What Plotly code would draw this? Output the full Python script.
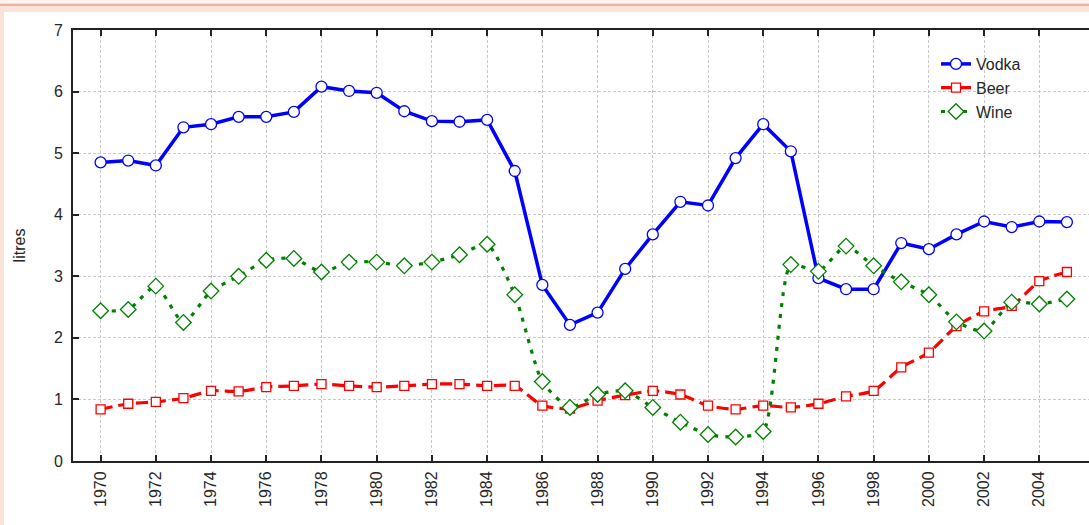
import plotly.graph_objects as go

years = list(range(1970, 2006))

vodka = [4.85, 4.88, 4.80, 5.42, 5.47, 5.59, 5.59, 5.67, 6.08, 6.01, 5.98, 5.68,
         5.52, 5.51, 5.54, 4.71, 2.86, 2.21, 2.41, 3.12, 3.68, 4.21, 4.15, 4.92,
         5.47, 5.03, 2.97, 2.79, 2.79, 3.54, 3.44, 3.68, 3.89, 3.80, 3.89, 3.88]

beer = [0.84, 0.93, 0.96, 1.02, 1.14, 1.13, 1.20, 1.22, 1.25, 1.22, 1.20, 1.22,
        1.25, 1.25, 1.22, 1.22, 0.90, 0.85, 0.98, 1.07, 1.14, 1.08, 0.90, 0.84,
        0.90, 0.87, 0.93, 1.05, 1.14, 1.52, 1.76, 2.19, 2.43, 2.52, 2.92, 3.07]

wine = [2.44, 2.46, 2.84, 2.25, 2.76, 3.00, 3.26, 3.29, 3.07, 3.23, 3.23, 3.17,
        3.23, 3.35, 3.52, 2.70, 1.29, 0.87, 1.08, 1.14, 0.87, 0.63, 0.43, 0.39,
        0.48, 3.19, 3.08, 3.49, 3.17, 2.91, 2.70, 2.26, 2.11, 2.58, 2.55, 2.63]

x_ticks = list(range(1970, 2006, 2))
y_ticks = list(range(0, 8))

W, H = 1089, 525
ML, MR, MT, MB = 73, 0, 30, 64
PW, PH = W - ML - MR, H - MT - MB

def px_x(x):
    return (x - ML) / PW

def px_y(y):
    return (H - MB - y) / PH

fig = go.Figure()

fig.add_trace(go.Scatter(
    x=years, y=vodka, name="Vodka", mode="lines+markers",
    line=dict(color="#0000ff", width=3.5),
    marker=dict(symbol="circle", size=11, color="white",
                line=dict(color="#0000ff", width=1.3)),
))
fig.add_trace(go.Scatter(
    x=years, y=beer, name="Beer", mode="lines+markers",
    line=dict(color="#ff0000", width=3.2, dash="12px,6px", shape="spline", smoothing=0.6),
    marker=dict(symbol="square", size=9, color="white",
                line=dict(color="#ff0000", width=1.3)),
))
fig.add_trace(go.Scatter(
    x=years, y=wine, name="Wine", mode="lines+markers",
    line=dict(color="#008000", width=3.2, dash="4px,7px", shape="spline", smoothing=0.6),
    marker=dict(symbol="diamond", size=12, color="white",
                line=dict(color="#008000", width=1.3)),
))

# page frame (pink band at top and left strip)
fig.add_shape(type="rect", xref="paper", yref="paper",
              x0=px_x(0), x1=px_x(W), y0=px_y(12), y1=px_y(0),
              fillcolor="#fae3d9", line=dict(width=0), layer="below")
fig.add_shape(type="rect", xref="paper", yref="paper",
              x0=px_x(0), x1=px_x(W), y0=px_y(6), y1=px_y(3.5),
              fillcolor="#eeb09f", line=dict(width=0), layer="below")
fig.add_shape(type="rect", xref="paper", yref="paper",
              x0=px_x(0), x1=px_x(W), y0=px_y(3.5), y1=px_y(0),
              fillcolor="#fdf4f0", line=dict(width=0), layer="below")
fig.add_shape(type="rect", xref="paper", yref="paper",
              x0=px_x(0), x1=px_x(4), y0=px_y(H), y1=px_y(6),
              fillcolor="#fae3d9", line=dict(width=0), layer="below")

axis_font = dict(family="Liberation Sans, Arial, sans-serif", size=16, color="#262626")

fig.update_layout(
    width=W, height=H,
    margin=dict(l=ML, r=MR, t=MT, b=MB, autoexpand=False),
    paper_bgcolor="white", plot_bgcolor="white",
    font=axis_font,
    showlegend=True,
    legend=dict(x=px_x(936), y=px_y(47), xanchor="left", yanchor="top",
                bgcolor="rgba(0,0,0,0)", font=dict(size=16, color="#262626"),
                tracegroupgap=0),
    xaxis=dict(range=[1969, 2005.8], tickmode="array", tickvals=x_ticks,
               ticktext=[str(t) for t in x_ticks], tickangle=-90,
               ticks="inside", ticklen=6, tickwidth=1.5, tickcolor="#222222",
               showline=True, linecolor="#222222", linewidth=2, mirror="ticks",
               showgrid=True, gridcolor="#c8c8c8", gridwidth=1, griddash="3px,2px",
               zeroline=False, tickfont=axis_font, ticklabelstandoff=2),
    yaxis=dict(range=[0, 7], tickmode="array", tickvals=y_ticks,
               ticks="inside", ticklen=6, tickwidth=1.5, tickcolor="#222222",
               showline=True, linecolor="#222222", linewidth=2,
               showgrid=True, gridcolor="#c8c8c8", gridwidth=1, griddash="3px,2px",
               zeroline=False, tickfont=axis_font, ticklabelstandoff=5,
               title=dict(text="litres", font=dict(size=16, color="#262626"), standoff=24)),
)

fig.write_html("out.html", config={"displayModeBar": False},
               post_script="document.body.style.margin='0';")
